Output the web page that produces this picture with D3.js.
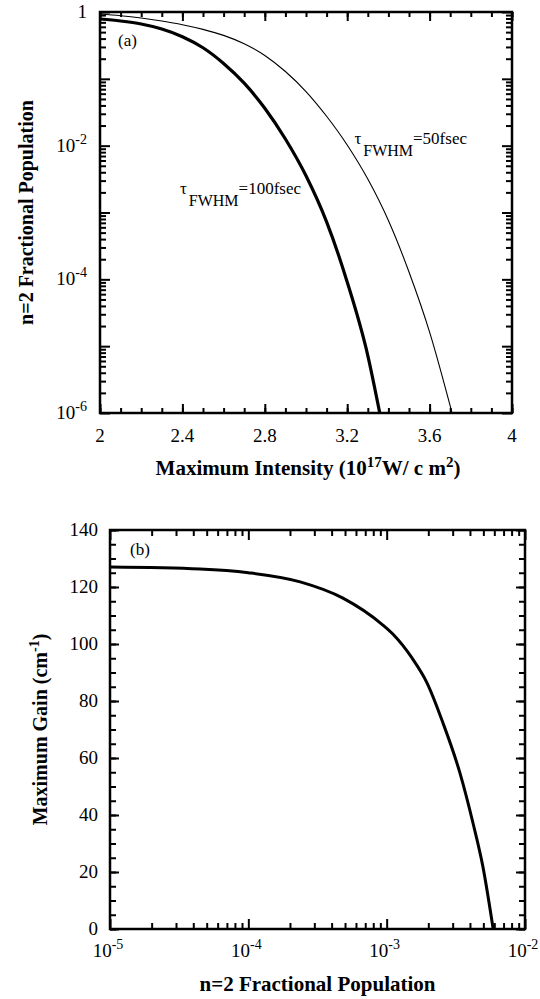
<!DOCTYPE html>
<html><head><meta charset="utf-8">
<script src="https://cdn.jsdelivr.net/npm/d3@7"></script>
<style>
body{margin:0;background:#fff;}
svg{display:block;}
text{font-family:"Liberation Serif","Times New Roman",serif;fill:#000;}
</style></head>
<body>
<svg id="c" width="540" height="999"></svg>
<script>
// ---- Panel (a) data ----
const intensity100 = [2.0, 2.1, 2.2, 2.3, 2.4, 2.5, 2.6, 2.7, 2.8, 2.9, 3.0, 3.1, 3.2, 3.3, 3.358];
const logPop100 = [-0.105, -0.135, -0.18, -0.255, -0.37, -0.535, -0.77, -1.065, -1.44, -1.9, -2.45, -3.14, -4.04, -5.14, -6.0];
const intensity50 = [2.0, 2.1, 2.2, 2.3, 2.4, 2.5, 2.6, 2.7, 2.8, 2.9, 3.0, 3.1, 3.2, 3.3, 3.4, 3.5, 3.6, 3.709];
const logPop50 = [-0.03, -0.055, -0.09, -0.135, -0.19, -0.26, -0.35, -0.475, -0.65, -0.89, -1.19, -1.56, -1.99, -2.5, -3.12, -3.89, -4.79, -6.0];
const aXTicks = [2, 2.4, 2.8, 3.2, 3.6, 4];
const aYTicks = [1, 1e-2, 1e-4, 1e-6];
const labels = ["100fsec", "50fsec"];

// ---- Panel (b) data ----
const popB = [1e-5, 4.47e-5, 1e-4, 2.37e-4, 4.83e-4, 9.25e-4, 1.112e-3, 1.524e-3, 1.96e-3, 2.553e-3, 3.388e-3, 4.207e-3, 4.966e-3, 5.888e-3];
const gainB = [127, 126.3, 125, 121.8, 116.1, 106.9, 103.4, 95.1, 86.3, 72.3, 54.7, 37.2, 21.8, 0];
const bXTicks = [1e-5, 1e-4, 1e-3, 1e-2];
const bYTicks = [0, 20, 40, 60, 80, 100, 120, 140];

const svg = d3.select("#c");

function supLabel(sel, v) {
  sel.text(null);
  if (v === 1) { sel.text("1"); return; }
  const e = Math.round(Math.log10(v));
  sel.append("tspan").text("10");
  sel.append("tspan").attr("dy", -8).attr("font-size", 14).text(e);
}

function ticks(g, axisFn, scale, vals, len, tx, ty) {
  const a = g.append("g").attr("transform", `translate(${tx},${ty})`)
    .call(axisFn(scale).tickValues(vals).tickSize(-len).tickFormat(""));
  a.select(".domain").remove();
  a.selectAll("line").attr("stroke", "#000").attr("stroke-width", 2);
}

function logMinor(lo, hi) {
  const out = [];
  for (let e = lo; e < hi; e++) for (let k = 2; k <= 9; k++) out.push(k * Math.pow(10, e));
  return out;
}
function logMajor(lo, hi) { const o = []; for (let e = lo; e <= hi; e++) o.push(Math.pow(10, e)); return o; }

// ================= Panel (a) =================
{
  const L = 100, R = 512, T = 12, B = 413;
  const x = d3.scaleLinear().domain([2, 4]).range([L, R]);
  const y = d3.scaleLog().domain([1e-6, 1]).range([B, T]);
  const g = svg.append("g");

  const xMinor = d3.range(21).map(i => 2 + i * 0.1);
  ticks(g, d3.axisBottom, x, xMinor, 5, 0, B);
  ticks(g, d3.axisBottom, x, aXTicks, 9, 0, B);
  ticks(g, d3.axisTop, x, xMinor, 5, 0, T);
  ticks(g, d3.axisTop, x, aXTicks, 9, 0, T);
  ticks(g, d3.axisLeft, y, logMinor(-6, 0), 6, L, 0);
  ticks(g, d3.axisLeft, y, logMajor(-6, 0), 10, L, 0);
  ticks(g, d3.axisRight, y, logMinor(-6, 0), 6, R, 0);
  ticks(g, d3.axisRight, y, logMajor(-6, 0), 10, R, 0);

  g.append("rect").attr("x", L).attr("y", T).attr("width", R - L).attr("height", B - T)
    .attr("fill", "none").attr("stroke", "#000").attr("stroke-width", 2.5);

  g.selectAll(".xl").data(aXTicks).enter().append("text")
    .attr("x", d => x(d)).attr("y", B + 29).attr("text-anchor", "middle")
    .attr("font-size", 19).text(d => d);
  g.selectAll(".yl").data(aYTicks).enter().append("text")
    .attr("x", L - 13).attr("y", d => y(d) + 6).attr("text-anchor", "end")
    .attr("font-size", 19).each(function (d) { supLabel(d3.select(this), d); });

  const line = d3.line().x(d => x(d[0])).y(d => y(Math.pow(10, d[1]))).curve(d3.curveMonotoneX);
  g.append("path").datum(intensity100.map((v, i) => [v, logPop100[i]]))
    .attr("d", line).attr("fill", "none").attr("stroke", "#000").attr("stroke-width", 3.2);
  g.append("path").datum(intensity50.map((v, i) => [v, logPop50[i]]))
    .attr("d", line).attr("fill", "none").attr("stroke", "#000").attr("stroke-width", 1.1);

  function tauLabel(px, py, txt) {
    const t = g.append("text").attr("x", px).attr("y", py).attr("font-size", 17);
    t.append("tspan").text("τ");
    t.append("tspan").attr("dy", 12).attr("dx", 2).attr("font-size", 16).text("FWHM");
    t.append("tspan").attr("dy", -12).text("=" + txt);
  }
  tauLabel(x(2.388), y(Math.pow(10, -2.72)), labels[0]);
  tauLabel(x(3.235), y(Math.pow(10, -1.975)), labels[1]);

  g.append("text").attr("x", 118).attr("y", 46).attr("font-size", 17).text("(a)");

  g.append("text").attr("x", (L + R) / 2 + 2).attr("y", 475).attr("text-anchor", "middle")
    .attr("font-size", 21).attr("font-weight", "bold")
    .call(t => {
      t.append("tspan").text("Maximum Intensity (10");
      t.append("tspan").attr("dy", -8).attr("font-size", 15).text("17");
      t.append("tspan").attr("dy", 8).text("W/ c m");
      t.append("tspan").attr("dy", -8).attr("font-size", 15).text("2");
      t.append("tspan").attr("dy", 8).text(")");
    });
  g.append("text").attr("transform", `translate(33,${(T + B) / 2}) rotate(-90)`)
    .attr("text-anchor", "middle").attr("font-size", 20).attr("font-weight", "bold")
    .text("n=2  Fractional Population");
}

// ================= Panel (b) =================
{
  const L = 110, R = 525, T = 530, B = 929;
  const x = d3.scaleLog().domain([1e-5, 1e-2]).range([L, R]);
  const y = d3.scaleLinear().domain([0, 140]).range([B, T]);
  const g = svg.append("g");

  const yMinor = d3.range(0, 141, 5);
  ticks(g, d3.axisBottom, x, logMinor(-5, -2), 6, 0, B);
  ticks(g, d3.axisBottom, x, logMajor(-5, -2), 10, 0, B);
  ticks(g, d3.axisTop, x, logMinor(-5, -2), 6, 0, T);
  ticks(g, d3.axisTop, x, logMajor(-5, -2), 10, 0, T);
  ticks(g, d3.axisLeft, y, yMinor, 6, L, 0);
  ticks(g, d3.axisLeft, y, bYTicks, 9, L, 0);
  ticks(g, d3.axisRight, y, yMinor, 6, R, 0);
  ticks(g, d3.axisRight, y, bYTicks, 9, R, 0);

  g.append("rect").attr("x", L).attr("y", T).attr("width", R - L).attr("height", B - T)
    .attr("fill", "none").attr("stroke", "#000").attr("stroke-width", 2.5);

  g.selectAll(".xl").data(bXTicks).enter().append("text")
    .attr("x", d => x(d) - 2).attr("y", B + 28).attr("text-anchor", "middle")
    .attr("font-size", 19).each(function (d) { supLabel(d3.select(this), d); });
  g.selectAll(".yl").data(bYTicks).enter().append("text")
    .attr("x", L - 12).attr("y", d => y(d) + 6).attr("text-anchor", "end")
    .attr("font-size", 19).text(d => d);

  const line = d3.line().x(d => x(d[0])).y(d => y(d[1])).curve(d3.curveMonotoneX);
  g.append("path").datum(popB.map((v, i) => [v, gainB[i]]))
    .attr("d", line).attr("fill", "none").attr("stroke", "#000").attr("stroke-width", 3);

  g.append("text").attr("x", 130).attr("y", 555).attr("font-size", 17).text("(b)");

  g.append("text").attr("x", (L + R) / 2).attr("y", 991).attr("text-anchor", "middle")
    .attr("font-size", 21).attr("font-weight", "bold").text("n=2 Fractional Population");
  g.append("text").attr("transform", `translate(47,${(T + B) / 2}) rotate(-90)`)
    .attr("text-anchor", "middle").attr("font-size", 20).attr("font-weight", "bold")
    .call(t => {
      t.append("tspan").text("Maximum Gain (cm");
      t.append("tspan").attr("dy", -8).attr("font-size", 14).text("-1");
      t.append("tspan").attr("dy", 8).text(")");
    });
}
</script>
</body></html>
